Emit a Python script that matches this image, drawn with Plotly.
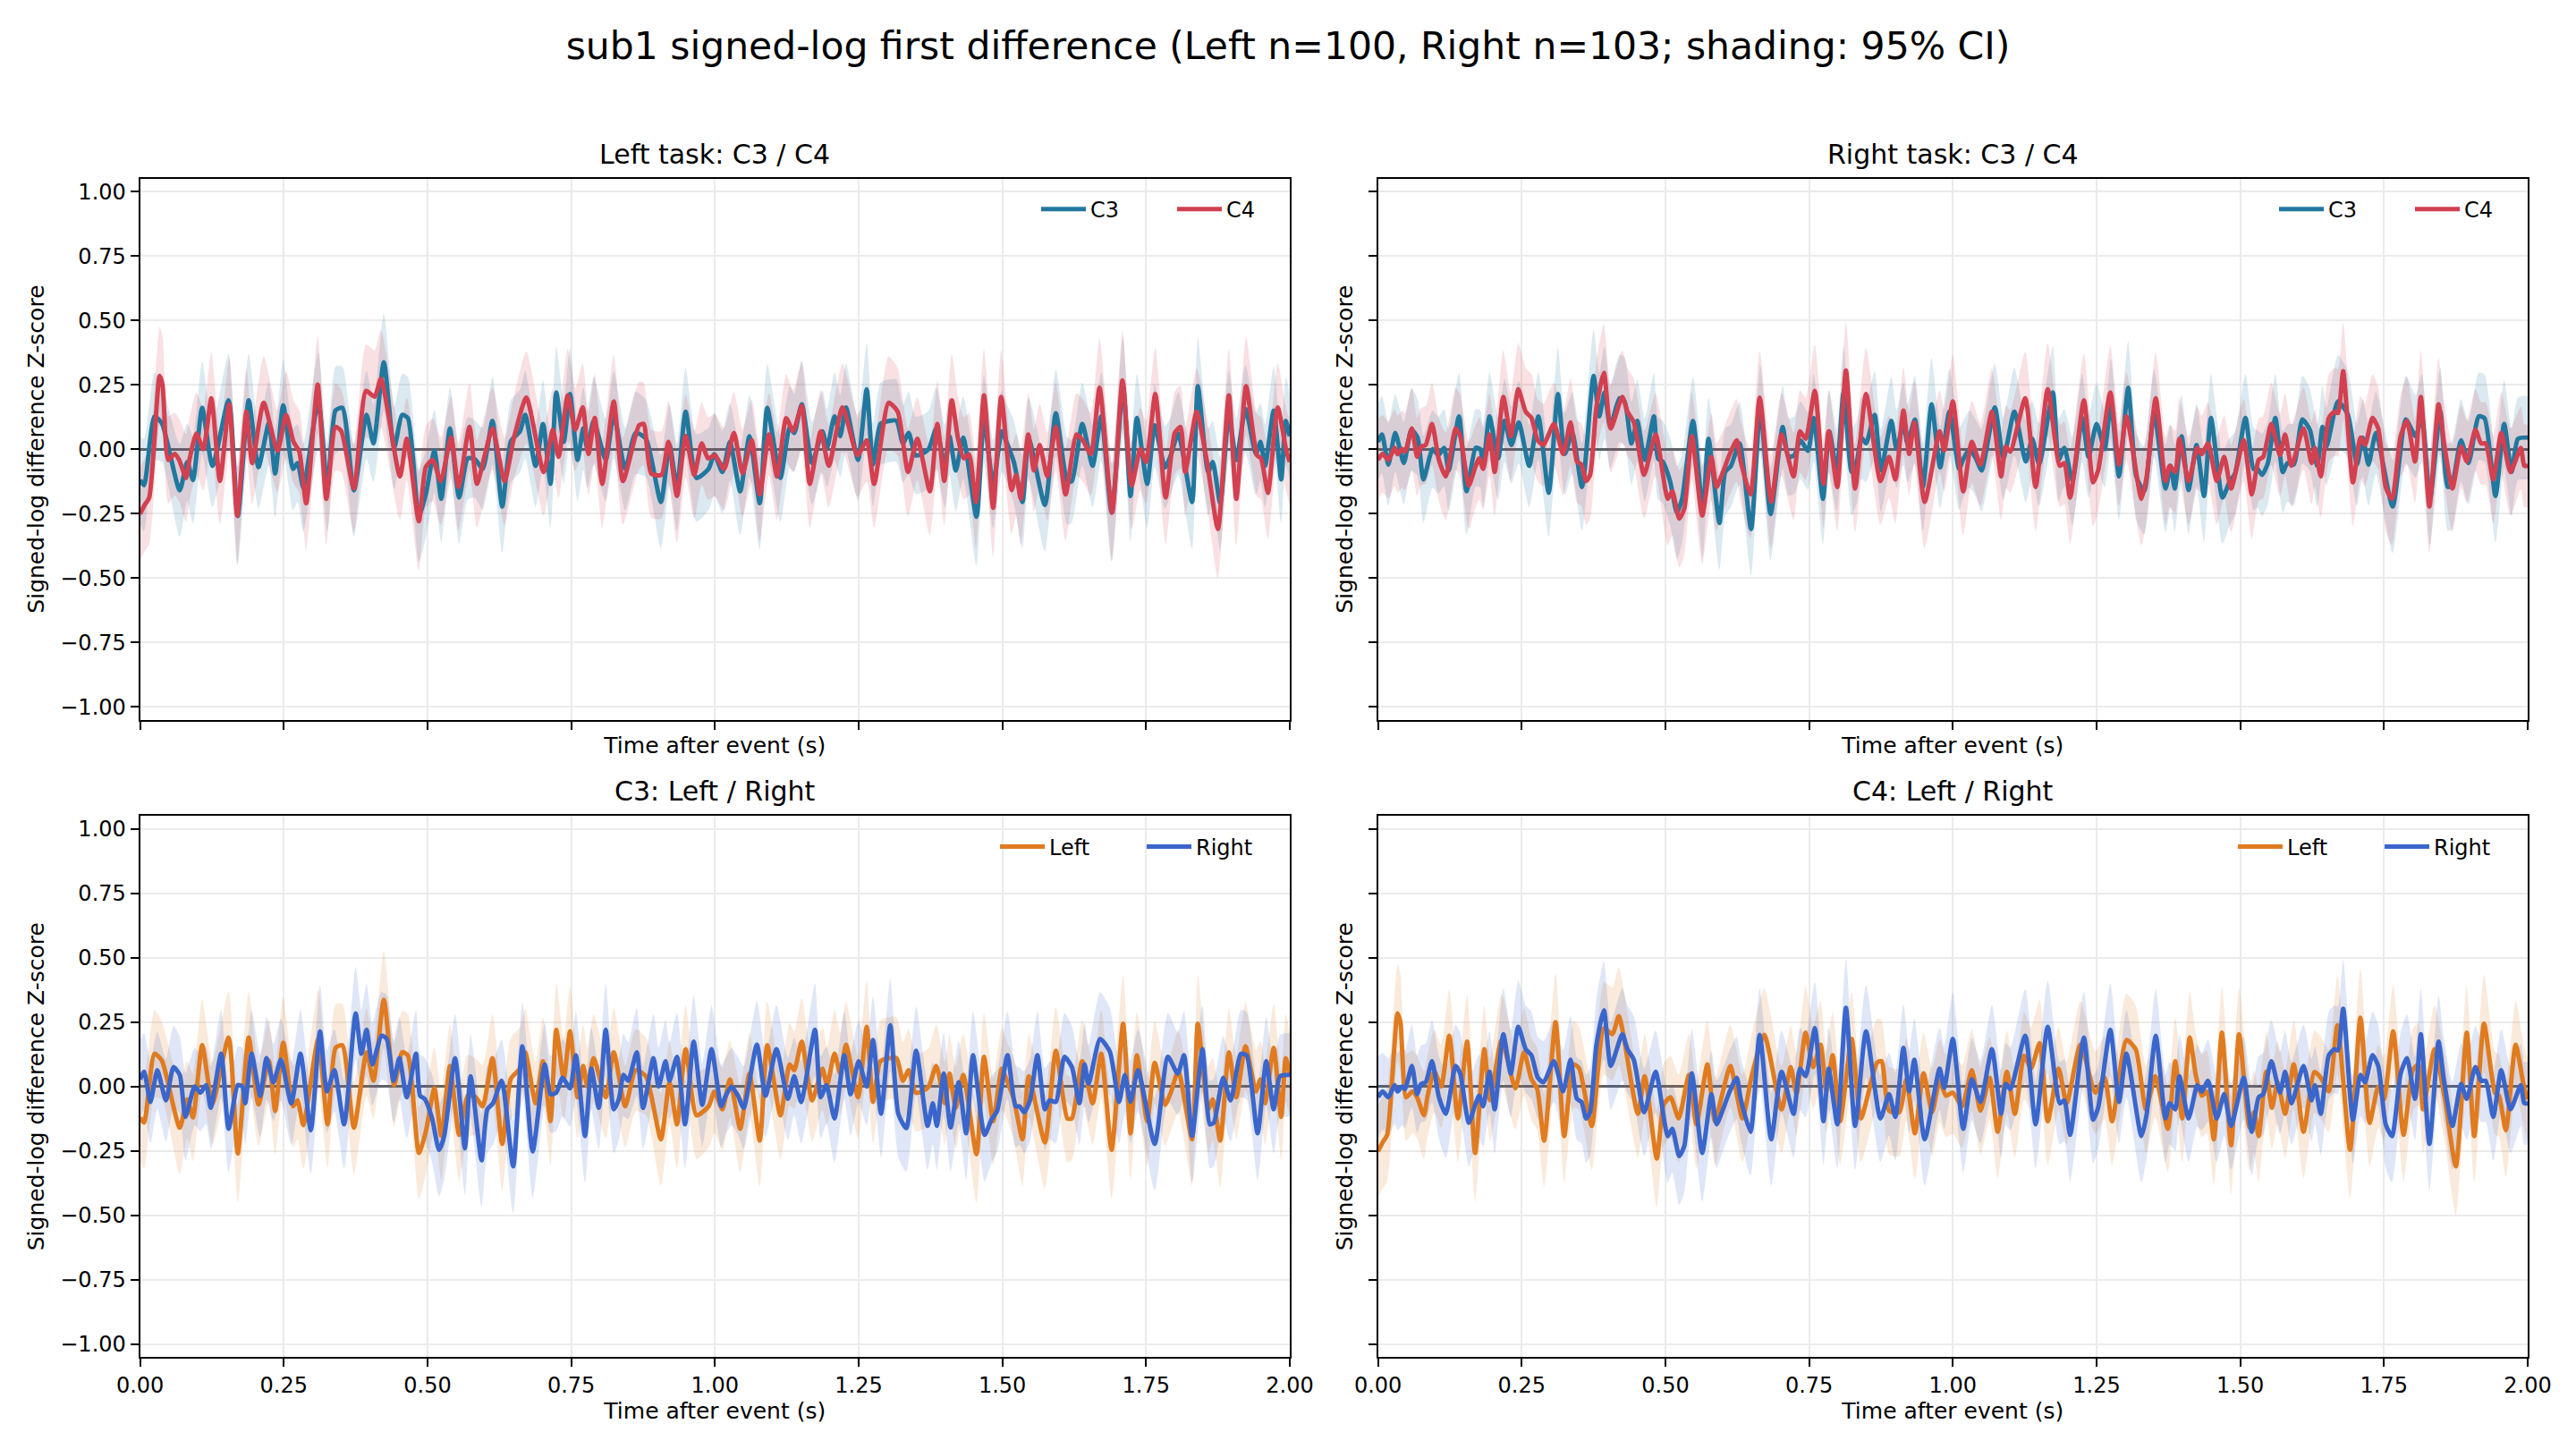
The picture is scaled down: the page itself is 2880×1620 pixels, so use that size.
import plotly.graph_objects as go

TITLE = "sub1 signed-log first difference (Left n=100, Right n=103; shading: 95% CI)"
X_LABEL = "Time after event (s)"
Y_LABEL = "Signed-log difference Z-score"
PANEL_TITLES = ["Left task: C3 / C4", "Right task: C3 / C4", "C3: Left / Right", "C4: Left / Right"]
X_TICKS = [0.0, 0.25, 0.5, 0.75, 1.0, 1.25, 1.5, 1.75, 2.0]
Y_TICKS = [-1.0, -0.75, -0.5, -0.25, 0.0, 0.25, 0.5, 0.75, 1.0]

# (time s, mean z, 95% CI half-width)
left_c3 = [
(0.000,-0.120,0.17),(0.007,-0.140,0.18),(0.025,0.127,0.17),(0.038,0.100,0.15),(0.069,-0.160,0.18),(0.082,-0.050,0.15),(0.092,-0.120,0.17),(0.108,0.160,0.18),(0.126,-0.065,0.16),(0.154,0.190,0.18),(0.170,-0.260,0.19),(0.189,0.190,0.18),(0.206,-0.070,0.16),(0.224,0.100,0.16),(0.235,-0.095,0.17),(0.249,0.170,0.18),(0.266,-0.077,0.16),(0.274,-0.054,0.15),(0.284,-0.150,0.17),(0.310,0.185,0.19),(0.326,-0.147,0.17),(0.340,0.150,0.17),(0.352,0.160,0.16),(0.372,-0.160,0.18),(0.394,0.133,0.17),(0.406,0.022,0.15),(0.424,0.337,0.19),(0.442,0.005,0.16),(0.456,0.133,0.16),(0.466,0.120,0.16),(0.485,-0.258,0.18),(0.497,-0.176,0.17),(0.512,-0.007,0.16),(0.524,-0.193,0.17),(0.539,0.080,0.16),(0.555,-0.188,0.18),(0.570,-0.036,0.16),(0.583,-0.040,0.15),(0.596,-0.077,0.16),(0.613,0.110,0.17),(0.630,-0.223,0.18),(0.645,0.030,0.16),(0.661,0.070,0.16),(0.670,0.133,0.17),(0.688,-0.065,0.16),(0.701,0.098,0.17),(0.714,-0.135,0.17),(0.724,0.220,0.18),(0.737,0.028,0.16),(0.748,0.214,0.18),(0.761,-0.042,0.16),(0.771,0.080,0.16),(0.778,0.000,0.15),(0.789,0.110,0.17),(0.810,-0.042,0.16),(0.824,0.133,0.17),(0.844,-0.077,0.16),(0.862,0.063,0.16),(0.880,0.040,0.15),(0.906,-0.205,0.18),(0.921,0.016,0.16),(0.934,-0.147,0.17),(0.949,0.145,0.17),(0.968,-0.112,0.17),(0.989,-0.077,0.16),(0.999,-0.020,0.16),(1.013,-0.089,0.16),(1.026,0.028,0.15),(1.044,-0.164,0.17),(1.060,0.050,0.16),(1.078,-0.210,0.18),(1.091,0.160,0.17),(1.114,-0.112,0.17),(1.130,0.086,0.16),(1.138,0.063,0.15),(1.151,0.174,0.17),(1.169,-0.054,0.16),(1.187,0.069,0.16),(1.195,0.005,0.15),(1.208,0.127,0.17),(1.218,0.050,0.16),(1.228,0.162,0.17),(1.249,-0.042,0.16),(1.264,0.232,0.18),(1.275,-0.060,0.16),(1.288,0.098,0.16),(1.304,0.110,0.16),(1.316,0.110,0.16),(1.327,0.022,0.15),(1.337,0.063,0.16),(1.349,-0.024,0.15),(1.360,-0.019,0.15),(1.372,0.000,0.15),(1.385,0.080,0.16),(1.400,-0.065,0.16),(1.408,0.050,0.15),(1.419,-0.083,0.16),(1.432,0.045,0.16),(1.455,-0.263,0.19),(1.468,0.115,0.17),(1.484,-0.135,0.17),(1.499,0.069,0.16),(1.507,0.028,0.15),(1.520,-0.050,0.16),(1.535,-0.205,0.18),(1.546,0.040,0.16),(1.574,-0.217,0.18),(1.593,0.139,0.17),(1.613,-0.124,0.17),(1.621,-0.124,0.16),(1.639,0.098,0.16),(1.657,-0.065,0.16),(1.672,0.127,0.17),(1.690,-0.246,0.19),(1.710,0.244,0.19),(1.723,-0.182,0.18),(1.734,0.121,0.17),(1.752,-0.135,0.17),(1.765,0.092,0.16),(1.783,-0.071,0.16),(1.793,-0.024,0.15),(1.806,0.060,0.16),(1.830,-0.205,0.18),(1.840,0.244,0.19),(1.858,-0.089,0.17),(1.866,-0.050,0.16),(1.879,-0.210,0.18),(1.894,0.133,0.17),(1.907,-0.042,0.16),(1.923,0.156,0.17),(1.941,-0.019,0.16),(1.949,0.028,0.15),(1.957,-0.065,0.16),(1.972,0.150,0.17),(1.985,-0.118,0.17),(1.993,0.110,0.17),(2.000,0.050,0.16),
]

right_c3 = [
(0.000,0.028,0.15),(0.007,0.057,0.15),(0.018,-0.060,0.16),(0.030,0.063,0.15),(0.045,-0.054,0.16),(0.058,0.075,0.16),(0.069,0.045,0.15),(0.079,-0.118,0.17),(0.095,0.000,0.15),(0.105,-0.024,0.15),(0.115,0.005,0.15),(0.123,-0.083,0.16),(0.141,0.127,0.17),(0.154,-0.164,0.17),(0.170,0.005,0.15),(0.178,0.000,0.15),(0.183,-0.065,0.16),(0.194,0.127,0.17),(0.209,-0.036,0.16),(0.220,0.110,0.16),(0.232,0.016,0.15),(0.245,0.104,0.16),(0.263,-0.065,0.16),(0.279,0.127,0.17),(0.297,-0.170,0.17),(0.313,0.214,0.18),(0.325,-0.019,0.16),(0.338,0.063,0.16),(0.355,-0.147,0.17),(0.375,0.284,0.18),(0.385,0.127,0.17),(0.394,0.220,0.18),(0.404,0.086,0.16),(0.420,0.197,0.17),(0.429,0.185,0.17),(0.441,0.022,0.16),(0.451,0.110,0.16),(0.464,-0.042,0.16),(0.480,0.127,0.17),(0.487,-0.036,0.16),(0.495,-0.048,0.16),(0.508,-0.124,0.17),(0.520,-0.246,0.18),(0.529,-0.193,0.17),(0.548,0.110,0.17),(0.565,-0.240,0.18),(0.575,0.040,0.16),(0.594,-0.287,0.18),(0.604,-0.089,0.17),(0.614,-0.065,0.16),(0.629,0.022,0.16),(0.649,-0.310,0.18),(0.665,0.156,0.17),(0.683,-0.252,0.18),(0.704,0.086,0.16),(0.714,-0.030,0.15),(0.724,-0.024,0.15),(0.735,0.034,0.15),(0.748,-0.007,0.15),(0.758,0.121,0.17),(0.774,-0.193,0.18),(0.785,0.069,0.16),(0.798,-0.083,0.16),(0.810,0.220,0.18),(0.824,-0.089,0.17),(0.833,-0.048,0.16),(0.841,0.045,0.16),(0.849,0.022,0.15),(0.864,0.133,0.17),(0.875,-0.083,0.16),(0.893,0.110,0.17),(0.902,0.000,0.15),(0.914,0.098,0.16),(0.921,0.022,0.15),(0.934,0.115,0.17),(0.948,-0.147,0.17),(0.963,0.174,0.18),(0.978,-0.071,0.16),(0.994,0.145,0.17),(1.011,-0.077,0.16),(1.018,-0.040,0.15),(1.029,0.000,0.15),(1.040,-0.036,0.15),(1.050,-0.083,0.16),(1.073,0.162,0.17),(1.088,-0.036,0.16),(1.107,0.145,0.17),(1.127,-0.048,0.16),(1.138,0.040,0.15),(1.150,-0.060,0.16),(1.174,0.220,0.18),(1.184,-0.042,0.16),(1.194,0.005,0.15),(1.208,-0.124,0.17),(1.225,0.121,0.17),(1.236,-0.030,0.16),(1.250,0.098,0.16),(1.264,0.000,0.15),(1.275,0.180,0.17),(1.289,-0.106,0.17),(1.305,0.238,0.18),(1.319,-0.106,0.17),(1.333,-0.162,0.17),(1.350,0.139,0.17),(1.370,-0.153,0.17),(1.379,-0.065,0.16),(1.386,-0.153,0.17),(1.398,0.050,0.16),(1.410,-0.159,0.17),(1.424,0.016,0.16),(1.437,-0.182,0.18),(1.449,0.121,0.17),(1.469,-0.188,0.18),(1.481,-0.129,0.17),(1.491,-0.094,0.16),(1.509,0.121,0.17),(1.523,-0.077,0.16),(1.530,-0.077,0.15),(1.538,-0.100,0.16),(1.548,-0.054,0.16),(1.561,0.121,0.17),(1.574,-0.089,0.16),(1.582,-0.054,0.15),(1.593,-0.060,0.16),(1.608,0.115,0.17),(1.621,0.075,0.16),(1.634,-0.065,0.16),(1.643,0.086,0.16),(1.650,0.010,0.15),(1.670,0.185,0.18),(1.687,0.135,0.17),(1.703,-0.060,0.16),(1.713,0.045,0.15),(1.723,-0.060,0.16),(1.736,0.063,0.16),(1.765,-0.223,0.18),(1.788,0.115,0.17),(1.805,0.050,0.16),(1.816,0.121,0.17),(1.830,-0.193,0.18),(1.848,0.145,0.17),(1.861,-0.147,0.17),(1.868,-0.140,0.17),(1.884,0.034,0.16),(1.897,-0.054,0.16),(1.915,0.127,0.17),(1.925,0.120,0.17),(1.944,-0.182,0.18),(1.959,0.098,0.17),(1.972,-0.089,0.17),(1.983,0.040,0.16),(2.000,0.045,0.16),
]

left_c4 = [
(0.000,-0.252,0.18),(0.008,-0.217,0.18),(0.016,-0.188,0.18),(0.034,0.284,0.19),(0.039,0.250,0.19),(0.049,-0.042,0.17),(0.060,-0.019,0.16),(0.068,-0.042,0.16),(0.080,-0.112,0.17),(0.086,-0.040,0.16),(0.098,0.060,0.16),(0.110,0.000,0.16),(0.124,0.197,0.18),(0.139,-0.124,0.17),(0.155,0.174,0.18),(0.169,-0.258,0.19),(0.185,0.145,0.17),(0.195,-0.054,0.16),(0.215,0.180,0.18),(0.239,-0.007,0.16),(0.254,0.133,0.17),(0.267,0.028,0.16),(0.277,-0.010,0.16),(0.289,-0.210,0.18),(0.309,0.250,0.19),(0.324,-0.193,0.18),(0.340,0.086,0.17),(0.350,0.070,0.16),(0.372,-0.153,0.17),(0.393,0.226,0.18),(0.408,0.203,0.18),(0.419,0.273,0.19),(0.452,-0.106,0.17),(0.464,0.040,0.16),(0.485,-0.280,0.19),(0.497,-0.070,0.16),(0.509,-0.042,0.16),(0.523,-0.124,0.17),(0.541,0.045,0.16),(0.554,-0.147,0.17),(0.573,0.086,0.17),(0.586,-0.135,0.17),(0.600,-0.020,0.16),(0.613,0.080,0.16),(0.634,-0.124,0.17),(0.650,0.040,0.16),(0.672,0.200,0.18),(0.702,-0.089,0.17),(0.718,0.075,0.16),(0.728,-0.030,0.16),(0.744,0.209,0.18),(0.757,0.075,0.16),(0.770,0.162,0.17),(0.780,-0.019,0.16),(0.791,0.121,0.17),(0.804,-0.135,0.17),(0.824,0.185,0.18),(0.840,-0.124,0.17),(0.868,0.092,0.17),(0.876,0.098,0.16),(0.889,-0.094,0.17),(0.907,-0.100,0.17),(0.919,0.028,0.16),(0.934,-0.182,0.18),(0.949,0.051,0.16),(0.964,-0.100,0.17),(0.977,0.022,0.16),(0.988,-0.036,0.16),(1.000,-0.024,0.16),(1.016,-0.077,0.16),(1.033,0.063,0.16),(1.048,-0.094,0.17),(1.064,0.034,0.16),(1.078,-0.176,0.18),(1.094,0.057,0.16),(1.108,-0.106,0.17),(1.124,0.120,0.17),(1.136,0.070,0.16),(1.151,0.168,0.17),(1.165,-0.135,0.17),(1.184,0.069,0.16),(1.198,-0.065,0.16),(1.222,0.162,0.17),(1.248,-0.024,0.16),(1.264,0.034,0.16),(1.277,-0.135,0.17),(1.302,0.180,0.18),(1.318,0.145,0.17),(1.336,-0.089,0.17),(1.352,0.040,0.16),(1.374,-0.164,0.17),(1.387,0.098,0.17),(1.399,-0.124,0.17),(1.412,0.190,0.18),(1.423,0.040,0.16),(1.433,-0.036,0.16),(1.442,-0.020,0.16),(1.454,-0.205,0.18),(1.468,0.209,0.18),(1.484,-0.228,0.19),(1.498,0.203,0.18),(1.516,-0.159,0.17),(1.524,-0.100,0.16),(1.532,-0.193,0.18),(1.545,0.057,0.16),(1.555,-0.083,0.16),(1.565,0.016,0.16),(1.578,-0.106,0.17),(1.593,0.086,0.17),(1.610,-0.176,0.18),(1.629,0.057,0.16),(1.640,0.034,0.16),(1.654,-0.019,0.16),(1.669,0.238,0.19),(1.691,-0.246,0.19),(1.709,0.267,0.19),(1.725,-0.141,0.17),(1.740,0.000,0.16),(1.750,-0.050,0.16),(1.766,0.214,0.18),(1.784,-0.188,0.18),(1.800,0.063,0.16),(1.810,0.086,0.16),(1.818,-0.089,0.17),(1.838,0.145,0.17),(1.856,-0.050,0.17),(1.875,-0.310,0.19),(1.894,0.209,0.18),(1.907,-0.193,0.18),(1.924,0.244,0.19),(1.943,-0.024,0.16),(1.950,-0.036,0.16),(1.962,-0.170,0.18),(1.979,0.162,0.17),(1.994,-0.007,0.16),(2.000,-0.050,0.16),
]

right_c4 = [
(0.000,-0.042,0.16),(0.008,-0.019,0.15),(0.018,-0.042,0.15),(0.029,0.005,0.15),(0.034,-0.020,0.15),(0.042,0.000,0.15),(0.047,-0.010,0.15),(0.059,0.080,0.16),(0.068,-0.030,0.15),(0.075,0.010,0.15),(0.083,0.016,0.15),(0.094,0.098,0.16),(0.106,-0.042,0.16),(0.118,-0.106,0.17),(0.135,0.080,0.16),(0.143,0.050,0.16),(0.158,-0.141,0.17),(0.169,-0.072,0.16),(0.176,-0.036,0.16),(0.183,-0.077,0.16),(0.194,0.057,0.16),(0.203,-0.089,0.17),(0.218,0.203,0.18),(0.231,0.050,0.17),(0.244,0.232,0.18),(0.257,0.145,0.17),(0.267,0.121,0.17),(0.278,0.034,0.16),(0.288,0.016,0.16),(0.306,0.098,0.16),(0.322,-0.019,0.16),(0.335,0.104,0.17),(0.346,-0.048,0.16),(0.354,-0.060,0.16),(0.362,-0.124,0.17),(0.369,-0.100,0.17),(0.380,0.162,0.18),(0.393,0.296,0.19),(0.405,0.080,0.17),(0.425,0.203,0.18),(0.434,0.145,0.17),(0.445,0.104,0.17),(0.463,-0.100,0.17),(0.483,0.057,0.16),(0.504,-0.193,0.18),(0.512,-0.164,0.17),(0.524,-0.270,0.19),(0.533,-0.230,0.18),(0.546,0.051,0.17),(0.564,-0.258,0.19),(0.580,-0.030,0.17),(0.589,-0.147,0.17),(0.600,-0.090,0.16),(0.611,-0.024,0.16),(0.624,0.034,0.16),(0.631,-0.048,0.16),(0.648,-0.176,0.17),(0.664,0.200,0.18),(0.684,-0.205,0.18),(0.702,0.057,0.16),(0.723,-0.106,0.17),(0.734,0.069,0.16),(0.744,0.040,0.16),(0.760,0.226,0.18),(0.775,-0.135,0.17),(0.784,0.069,0.16),(0.799,-0.147,0.17),(0.814,0.305,0.19),(0.830,-0.153,0.17),(0.849,0.214,0.18),(0.874,-0.124,0.17),(0.889,-0.030,0.16),(0.900,-0.118,0.17),(0.914,0.150,0.17),(0.924,-0.019,0.16),(0.933,0.104,0.16),(0.951,-0.205,0.18),(0.977,0.069,0.16),(0.985,-0.005,0.16),(1.000,0.185,0.18),(1.018,-0.164,0.17),(1.033,0.028,0.16),(1.048,-0.060,0.16),(1.068,0.145,0.17),(1.084,-0.106,0.17),(1.092,0.010,0.16),(1.100,-0.010,0.16),(1.126,0.197,0.18),(1.144,-0.147,0.17),(1.165,0.232,0.18),(1.186,-0.065,0.16),(1.194,-0.054,0.16),(1.204,-0.188,0.18),(1.228,0.190,0.18),(1.244,-0.129,0.17),(1.253,-0.080,0.16),(1.274,0.220,0.18),(1.289,-0.060,0.16),(1.302,0.127,0.17),(1.328,-0.193,0.18),(1.337,-0.110,0.17),(1.353,0.197,0.18),(1.370,-0.124,0.17),(1.377,-0.065,0.16),(1.387,-0.089,0.16),(1.394,0.040,0.16),(1.410,-0.124,0.17),(1.420,-0.036,0.16),(1.425,0.005,0.16),(1.433,-0.020,0.15),(1.444,0.022,0.16),(1.459,-0.124,0.17),(1.472,-0.030,0.16),(1.484,-0.153,0.17),(1.506,0.034,0.16),(1.520,-0.176,0.17),(1.532,-0.042,0.16),(1.540,-0.030,0.16),(1.554,0.098,0.16),(1.569,-0.024,0.16),(1.578,0.057,0.16),(1.589,-0.065,0.16),(1.610,0.080,0.16),(1.624,-0.054,0.16),(1.630,0.005,0.15),(1.640,-0.106,0.16),(1.654,0.121,0.17),(1.664,0.145,0.17),(1.670,0.140,0.17),(1.679,0.302,0.19),(1.696,-0.129,0.17),(1.709,0.045,0.16),(1.717,0.016,0.16),(1.730,0.121,0.17),(1.740,0.080,0.16),(1.753,-0.147,0.17),(1.764,-0.193,0.18),(1.779,0.050,0.16),(1.790,0.110,0.17),(1.804,-0.048,0.16),(1.814,0.203,0.18),(1.829,-0.223,0.18),(1.845,0.174,0.18),(1.854,0.030,0.16),(1.869,-0.153,0.17),(1.884,0.010,0.16),(1.894,-0.048,0.16),(1.909,0.075,0.16),(1.919,0.022,0.16),(1.927,0.022,0.16),(1.940,-0.118,0.17),(1.954,0.063,0.16),(1.970,-0.089,0.17),(1.988,0.005,0.16),(1.994,-0.065,0.16),(2.000,-0.065,0.16),
]

COL_C3 = "#21789f"
COL_C4 = "#d3404f"
COL_LEFT = "#e07b20"
COL_RIGHT = "#3a66cc"
FONT = "DejaVu Sans"


def rgba(hex_color, a):
    h = hex_color.lstrip("#")
    r, g, b = int(h[0:2], 16), int(h[2:4], 16), int(h[4:6], 16)
    return f"rgba({r},{g},{b},{a})"


# panel: (xaxis id, yaxis id, legend id, entry width px, legend offset px from right edge, series)
panels = [
    ("x", "y", "legend", 87, 283, [(left_c3, "C3", COL_C3), (left_c4, "C4", COL_C4)]),
    ("x2", "y2", "legend2", 87, 283, [(right_c3, "C3", COL_C3), (right_c4, "C4", COL_C4)]),
    ("x3", "y3", "legend3", 99, 329, [(left_c3, "Left", COL_LEFT), (right_c3, "Right", COL_RIGHT)]),
    ("x4", "y4", "legend4", 99, 329, [(left_c4, "Left", COL_LEFT), (right_c4, "Right", COL_RIGHT)]),
]

fig = go.Figure()
for xa, ya, lg, ew, off, series in panels:
    for rows, name, col in series:
        t = [r[0] for r in rows]
        v = [r[1] for r in rows]
        hw = [r[2] for r in rows]
        up = [a + b for a, b in zip(v, hw)]
        lo = [a - b for a, b in zip(v, hw)]
        fig.add_trace(go.Scatter(
            x=t + t[::-1], y=up + lo[::-1], mode="lines", fill="toself",
            fillcolor=rgba(col, 0.16), line=dict(width=0, shape="spline", smoothing=0.6),
            hoverinfo="skip", showlegend=False, xaxis=xa, yaxis=ya))
    for rows, name, col in series:
        t = [r[0] for r in rows]
        v = [r[1] for r in rows]
        fig.add_trace(go.Scatter(
            x=t, y=v, mode="lines", name=name,
            line=dict(color=col, width=5, shape="spline", smoothing=0.6),
            legend=lg, xaxis=xa, yaxis=ya))

W, H = 2880, 1620
xdom = [[156.6 / W, 1442 / W], [1540.6 / W, 2826 / W]]
ydom = [[1 - 804.5 / H, 1 - 199.7 / H], [1 - 1517.1 / H, 1 - 912.3 / H]]

axis_common = dict(
    showline=True, linecolor="black", linewidth=2, mirror=True,
    ticks="outside", ticklen=9, tickwidth=2, tickcolor="black",
    showgrid=True, gridcolor="#ebebeb", gridwidth=2,
    tickfont=dict(family=FONT, size=24, color="black"),
    tickformat=".2f", automargin=False,
)

layout = dict(
    width=W, height=H, margin=dict(l=0, r=0, t=0, b=0, autoexpand=False),
    paper_bgcolor="white", plot_bgcolor="white",
    font=dict(family=FONT, color="black"),
    title=dict(text=TITLE, x=0.5, xanchor="center", y=1 - 36 / H, yanchor="top",
               font=dict(family=FONT, size=42.5, color="black")),
    annotations=[],
)

for i, (xa, ya, lg, ew, off, series) in enumerate(panels):
    row, col = i // 2, i % 2
    xk = "xaxis" + ("" if xa == "x" else xa[1:])
    yk = "yaxis" + ("" if ya == "y" else ya[1:])
    layout[xk] = dict(
        axis_common, domain=xdom[col], anchor=ya, range=[0, 2],
        tickvals=X_TICKS, showticklabels=(row == 1), zeroline=False,
        title=dict(text=X_LABEL, font=dict(family=FONT, size=25, color="black"),
                   standoff=(4 if row == 1 else 10)),
    )
    layout[yk] = dict(
        axis_common, domain=ydom[row], anchor=xa, range=[-1.05, 1.05],
        tickvals=Y_TICKS, showticklabels=(col == 0),
        zeroline=True, zerolinecolor="#5d6166", zerolinewidth=2.5,
        title=dict(text=Y_LABEL, font=dict(family=FONT, size=25, color="black"),
                   standoff=10),
    )
    layout[lg] = dict(
        orientation="h", x=xdom[col][1] - off / W, xanchor="left",
        y=ydom[row][1] - 12 / H, yanchor="top", bgcolor="rgba(0,0,0,0)",
        font=dict(family=FONT, size=24, color="black"), itemwidth=50,
        entrywidth=ew, entrywidthmode="pixels", traceorder="normal",
    )
    layout["annotations"].append(dict(
        text=PANEL_TITLES[i], xref="paper", yref="paper",
        x=(xdom[col][0] + xdom[col][1]) / 2, y=ydom[row][1],
        xanchor="center", yanchor="bottom", yshift=8, showarrow=False,
        font=dict(family=FONT, size=30, color="black"),
    ))

fig.update_layout(**layout)
fig.write_html("out.html")
